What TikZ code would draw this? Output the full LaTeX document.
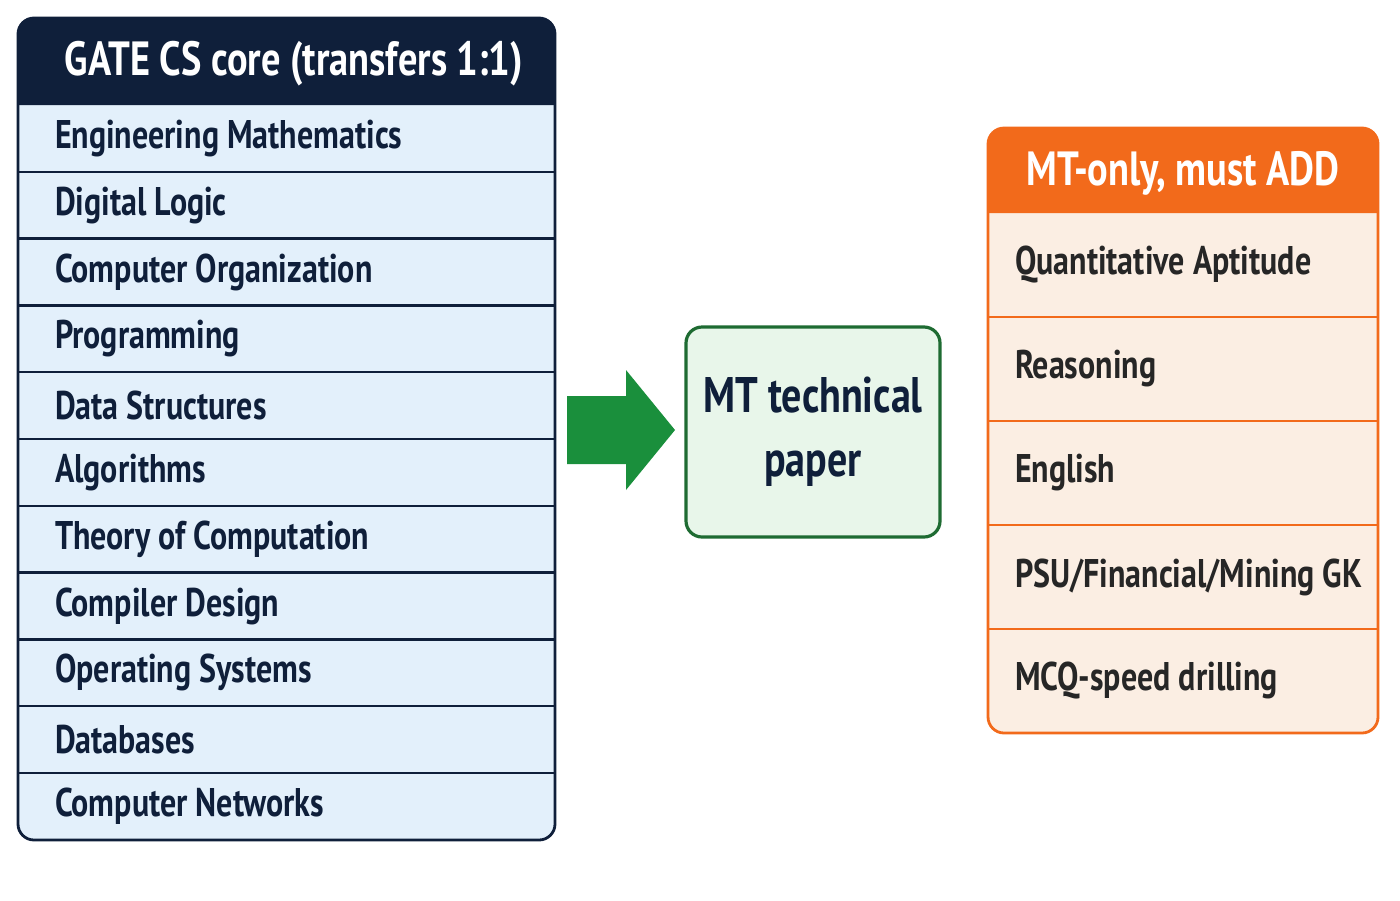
\documentclass[tikz,border=0pt]{standalone}
\usepackage{fontspec}
\setmainfont{PT Sans}[FakeStretch=0.8]
\usetikzlibrary{positioning}
\definecolor{navy}{HTML}{0F1F3A}
\definecolor{rowblue}{HTML}{E3F0FB}
\definecolor{arrgreen}{HTML}{1A8F3C}
\definecolor{boxgreen}{HTML}{E8F6EA}
\definecolor{edgegreen}{HTML}{1E6B32}
\definecolor{mtorange}{HTML}{F26A1B}
\definecolor{rowpeach}{HTML}{FBEEE3}
\tikzset{
  core/.style={anchor=west,font=\fontsize{20}{24}\selectfont\bfseries,text=navy},
  extra/.style={anchor=west,font=\fontsize{20}{24}\selectfont\bfseries,text=black!85},
  head/.style={font=\fontsize{24}{28}\selectfont\bfseries,text=white}
}
\begin{document}
\begin{tikzpicture}[x=0.5pt,y=-0.5pt]
  \useasboundingbox (0,0) rectangle (1400,900);
  % left column
  \fill[rowblue,rounded corners=8] (18,18) rectangle (555,840);
  \fill[navy] (18,105) [rounded corners=8] -- (18,18) -- (555,18) [sharp corners] -- (555,105) -- cycle;
  \node[head] (gate) at (294,64) {GATE CS core (transfers 1:1)};
  \foreach \t [count=\i] in {Engineering Mathematics,Digital Logic,Computer Organization,Programming,Data Structures,Algorithms,Theory of Computation,Compiler Design,Operating Systems,Databases,Computer Networks}{
    \node[core] (c\i) at (48,{105+66.8*\i-33.4}) {\t};
    \ifnum\i>1 \draw[navy,line width=1.2pt] (18,{105+66.8*(\i-1)}) -- (555,{105+66.8*(\i-1)});\fi
  }
  \draw[navy,line width=1.4pt,rounded corners=8] (18,18) rectangle (555,840);
  % arrow
  \fill[arrgreen] (567,396) -- (626,396) -- (626,370) -- (675,430) -- (626,490) -- (626,464) -- (567,464) -- cycle;
  % middle
  \node[draw=edgegreen,fill=boxgreen,line width=1.6pt,rounded corners=8,minimum width=127pt,minimum height=105pt,
    align=center,font=\fontsize{25}{32}\selectfont\bfseries,text=navy] (mt) at (813,432) {MT technical\\paper};
  % right column
  \fill[rowpeach,rounded corners=8] (988,128) rectangle (1378,733);
  \fill[mtorange] (988,213) [rounded corners=8] -- (988,128) -- (1378,128) [sharp corners] -- (1378,213) -- cycle;
  \node[head] (add) at (1183,173) {MT-only, must ADD};
  \foreach \t [count=\i] in {Quantitative Aptitude,Reasoning,English,PSU/Financial/Mining GK,MCQ-speed drilling}{
    \node[extra] (m\i) at (1008,{213+104*\i-52}) {\t};
    \ifnum\i>1 \draw[mtorange,line width=1.2pt] (988,{213+104*(\i-1)}) -- (1378,{213+104*(\i-1)});\fi
  }
  \draw[mtorange,line width=1.4pt,rounded corners=8] (988,128) rectangle (1378,733);
\end{tikzpicture}
\end{document}
